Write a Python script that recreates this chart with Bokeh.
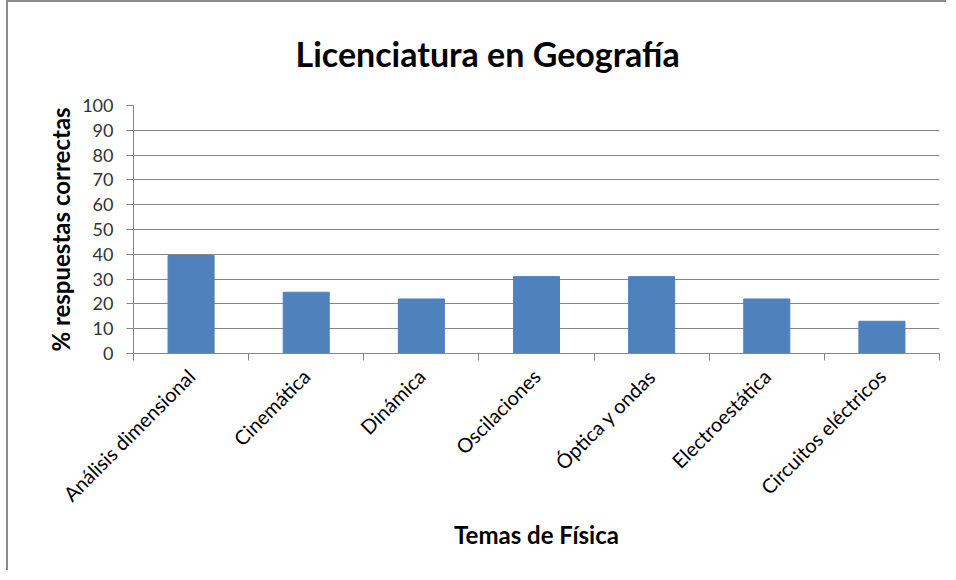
import math
from bokeh.plotting import figure
from bokeh.models import Range1d, FixedTicker, LinearAxis
from bokeh.embed import file_html
from bokeh.resources import INLINE

title_text = "Licenciatura en Geografía"
categories = ["Análisis dimensional", "Cinemática", "Dinámica", "Oscilaciones",
              "Óptica y ondas", "Electroestática", "Circuitos eléctricos"]
values = [39.5, 24.7, 22, 31, 31, 22, 13]
y_ticks = list(range(0, 101, 10))

n = len(categories)
centers = [i + 0.5 for i in range(n)]
bounds = list(range(n + 1))

FONT = "Lato"
GREY = "#868686"

p = figure(width=940, height=570, output_backend="svg", toolbar_location=None,
           x_range=Range1d(0, n), y_range=Range1d(0, 100), x_axis_type=None,
           min_border_left=125, min_border_right=9, min_border_top=103,
           min_border_bottom=219, outline_line_color=None, title=title_text)

p.title.text_font = FONT
p.title.text_font_size = "34px"
p.title.text_font_style = "bold"
p.title.text_color = "black"
p.title.align = "left"
p.title.offset = 162
p.title.vertical_align = "top"
p.title.standoff = 60

p.vbar(x=centers, top=values, width=0.4, color="#4F81BD")

# y axis
ya = p.yaxis[0]
ya.ticker = FixedTicker(ticks=y_ticks)
ya.axis_line_color = GREY
ya.major_tick_line_color = GREY
ya.major_tick_in = 0
ya.major_tick_out = 7
ya.minor_tick_line_color = None
ya.major_label_text_font = FONT
ya.major_label_text_font_size = "18px"
ya.major_label_text_color = "#333333"
ya.major_label_standoff = 13
ya.axis_label = "% respuestas correctas"
ya.axis_label_text_font = FONT
ya.axis_label_text_font_size = "24px"
ya.axis_label_text_font_style = "bold"
ya.axis_label_text_color = "black"
ya.axis_label_standoff = 4

p.ygrid.ticker = FixedTicker(ticks=y_ticks)
p.ygrid.grid_line_color = GREY
p.xgrid.grid_line_color = None

# x axis: boundary ticks
ax_ticks = LinearAxis(ticker=FixedTicker(ticks=bounds),
                      major_label_overrides={b: "" for b in bounds},
                      major_label_text_font_size="1px", major_label_standoff=0,
                      axis_line_color=GREY, major_tick_line_color=GREY,
                      major_tick_in=0, major_tick_out=7,
                      minor_tick_line_color=None)
p.add_layout(ax_ticks, "below")

# x axis: category labels
ax_lab = LinearAxis(ticker=FixedTicker(ticks=centers),
                    major_label_overrides={c: name for c, name in zip(centers, categories)},
                    major_label_orientation=math.pi / 4,
                    major_label_text_font=FONT, major_label_text_font_size="20px",
                    major_label_text_color="black", major_label_standoff=6,
                    axis_line_color=None, major_tick_line_color=None,
                    minor_tick_line_color=None,
                    axis_label="Temas de Física", axis_label_text_font=FONT,
                    axis_label_text_font_size="24px",
                    axis_label_text_font_style="bold",
                    axis_label_text_color="black", axis_label_standoff=3)
p.add_layout(ax_lab, "below")

p.styles = {"margin-left": "6px",
            "border-left": "2px solid #8c8c8c", "border-top": "2px solid #8c8c8c"}

open("out.html", "w").write(file_html(p, INLINE))
